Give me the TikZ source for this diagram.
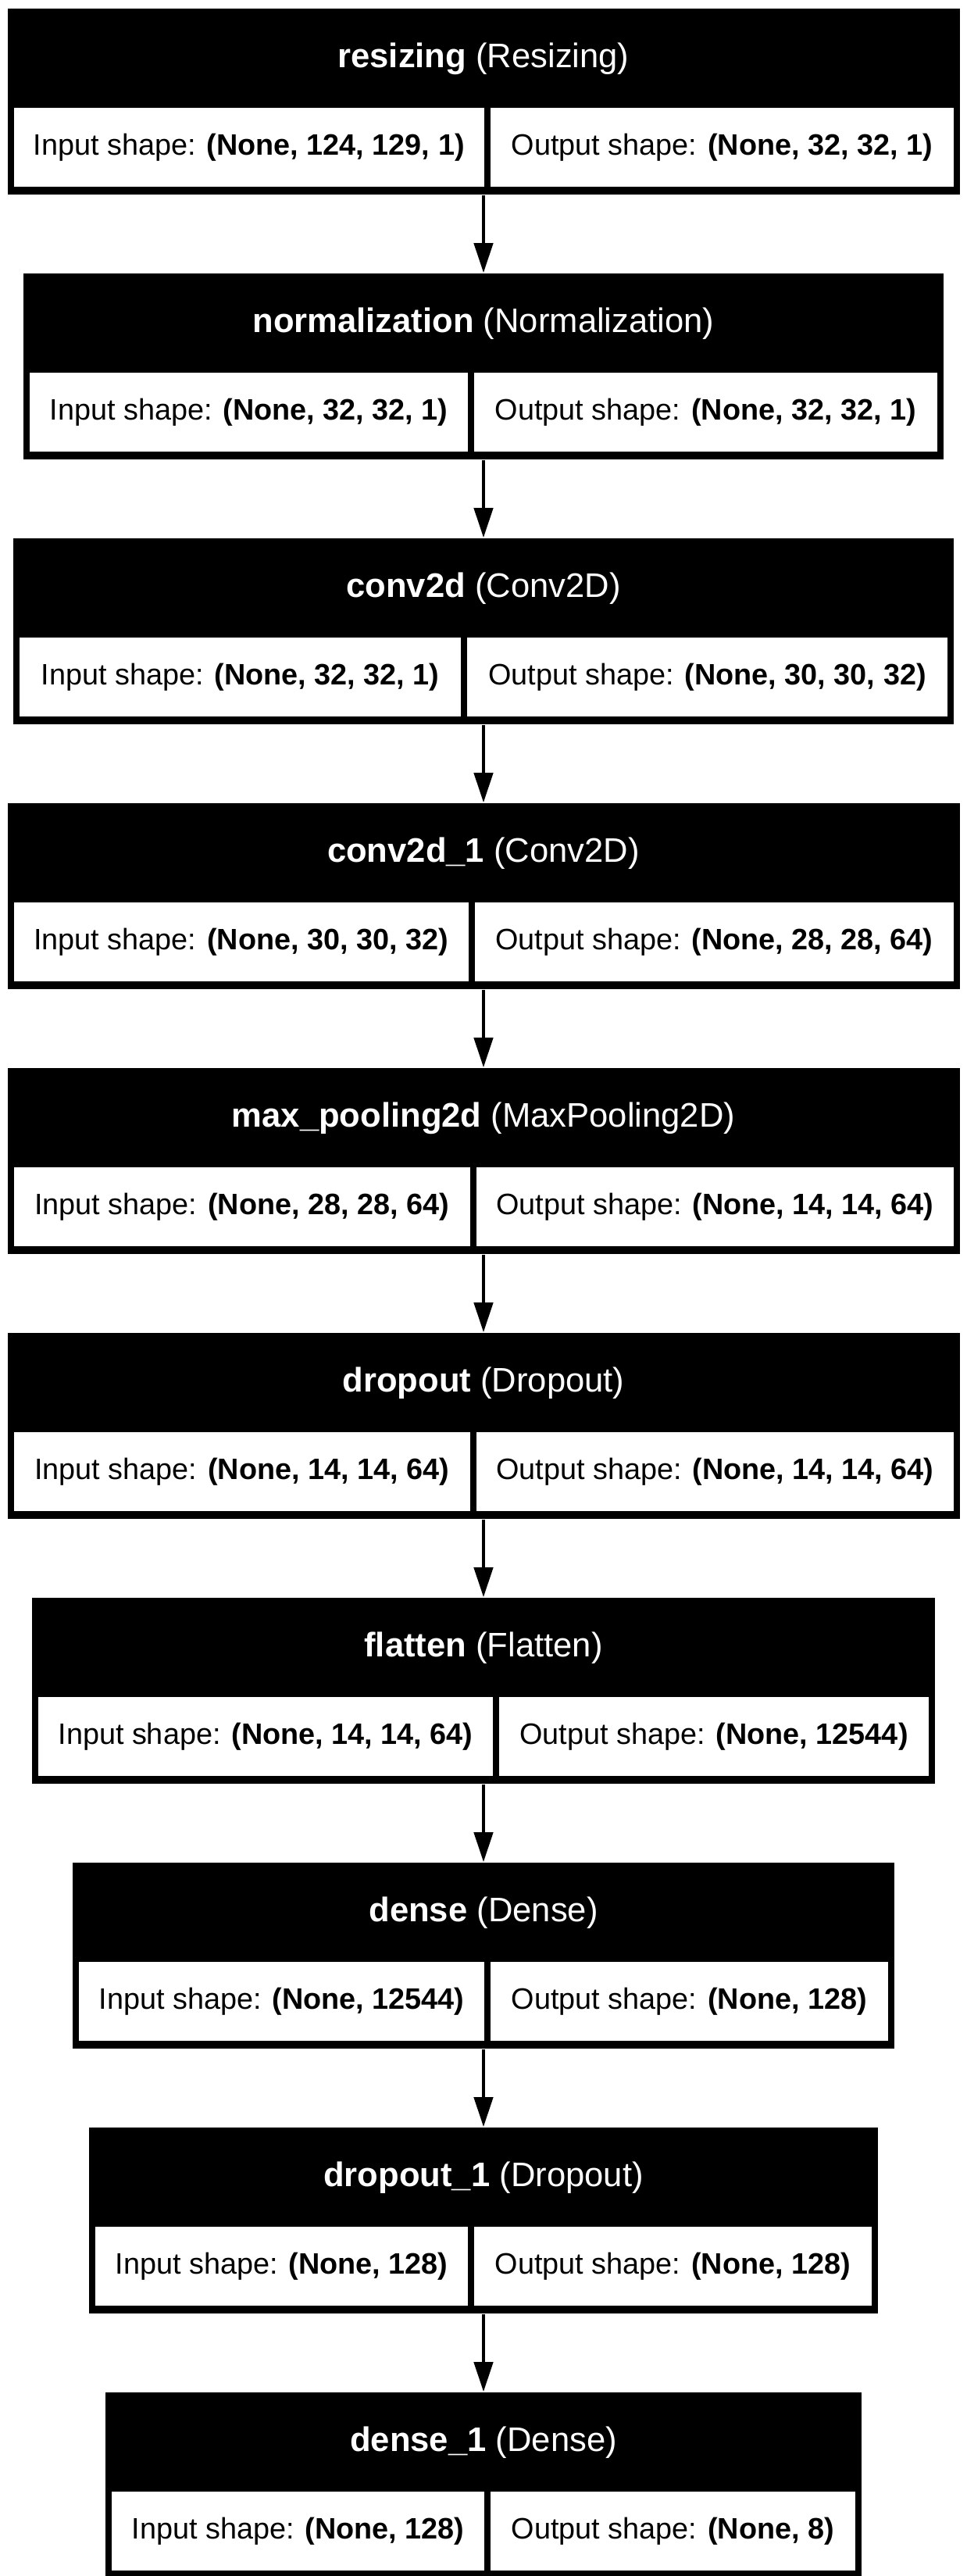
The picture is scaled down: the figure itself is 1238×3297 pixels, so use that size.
\documentclass[tikz,border=0pt]{standalone}
\usepackage{fontspec}
\setmainfont{Liberation Sans}
\usetikzlibrary{positioning, arrows.meta}

\begin{document}
\begin{tikzpicture}[x=0.25pt, y=-0.25pt, node distance=24.85pt,
        layerbox/.style={fill=black, minimum height=59.5pt, inner sep=0pt},
        headtext/.style={text=white, anchor=base, inner sep=0pt, font=\fontsize{10.9}{13}\selectfont},
        cellbox/.style={fill=white, minimum height=25.25pt, inner sep=0pt, font=\fontsize{9.45}{11}\selectfont},
        flowarrow/.style={-{Triangle[length=9.5pt, width=6pt]}, line width=1.1pt}]
        \useasboundingbox (0,0) rectangle (1238,3297);

        % Draw layer boxes
        \node[layerbox, minimum width=304.75pt] (resizing) at (619,130) {};
        \node[layerbox, minimum width=294.5pt, below=of resizing] (normalization) {};
        \node[layerbox, minimum width=301pt, below=of normalization] (conv) {};
        \node[layerbox, minimum width=304.75pt, below=of conv] (convb) {};
        \node[layerbox, minimum width=304.75pt, below=of convb] (maxpool) {};
        \node[layerbox, minimum width=304.75pt, below=of maxpool] (dropout) {};
        \node[layerbox, minimum width=289pt, below=of dropout] (flatten) {};
        \node[layerbox, minimum width=263pt, below=of flatten] (dense) {};
        \node[layerbox, minimum width=252.5pt, below=of dense] (dropoutb) {};
        \node[layerbox, minimum width=242pt, below=of dropoutb] (denseb) {};

        % Draw layer titles
        \node[headtext] (resizing-t) at ([yshift=-19pt]resizing.north) {\textbf{resizing} (Resizing)};
        \node[headtext] (normalization-t) at ([yshift=-19pt]normalization.north) {\textbf{normalization} (Normalization)};
        \node[headtext] (conv-t) at ([yshift=-19pt]conv.north) {\textbf{conv2d} (Conv2D)};
        \node[headtext] (convb-t) at ([yshift=-19pt]convb.north) {\textbf{conv2d\_1} (Conv2D)};
        \node[headtext] (maxpool-t) at ([yshift=-19pt]maxpool.north) {\textbf{max\_pooling2d} (MaxPooling2D)};
        \node[headtext] (dropout-t) at ([yshift=-19pt]dropout.north) {\textbf{dropout} (Dropout)};
        \node[headtext] (flatten-t) at ([yshift=-19pt]flatten.north) {\textbf{flatten} (Flatten)};
        \node[headtext] (dense-t) at ([yshift=-19pt]dense.north) {\textbf{dense} (Dense)};
        \node[headtext] (dropoutb-t) at ([yshift=-19pt]dropoutb.north) {\textbf{dropout\_1} (Dropout)};
        \node[headtext] (denseb-t) at ([yshift=-19pt]denseb.north) {\textbf{dense\_1} (Dense)};

        % Draw input and output shapes
        \node[cellbox, anchor=north west, minimum width=150.6pt] (resizing-in) at ([shift={(2pt,-31.75pt)}]resizing.north west) {Input shape: \textbf{(None, 124, 129, 1)}};
        \node[cellbox, anchor=north east, minimum width=148.1pt] (resizing-out) at ([shift={(-2pt,-31.75pt)}]resizing.north east) {Output shape: \textbf{(None, 32, 32, 1)}};
        \node[cellbox, anchor=north west, minimum width=140.25pt] (normalization-in) at ([shift={(2pt,-31.75pt)}]normalization.north west) {Input shape: \textbf{(None, 32, 32, 1)}};
        \node[cellbox, anchor=north east, minimum width=148.25pt] (normalization-out) at ([shift={(-2pt,-31.75pt)}]normalization.north east) {Output shape: \textbf{(None, 32, 32, 1)}};
        \node[cellbox, anchor=north west, minimum width=141.25pt] (conv-in) at ([shift={(2pt,-31.75pt)}]conv.north west) {Input shape: \textbf{(None, 32, 32, 1)}};
        \node[cellbox, anchor=north east, minimum width=153.75pt] (conv-out) at ([shift={(-2pt,-31.75pt)}]conv.north east) {Output shape: \textbf{(None, 30, 30, 32)}};
        \node[cellbox, anchor=north west, minimum width=145.6pt] (convb-in) at ([shift={(2pt,-31.75pt)}]convb.north west) {Input shape: \textbf{(None, 30, 30, 32)}};
        \node[cellbox, anchor=north east, minimum width=153.1pt] (convb-out) at ([shift={(-2pt,-31.75pt)}]convb.north east) {Output shape: \textbf{(None, 28, 28, 64)}};
        \node[cellbox, anchor=north west, minimum width=146.1pt] (maxpool-in) at ([shift={(2pt,-31.75pt)}]maxpool.north west) {Input shape: \textbf{(None, 28, 28, 64)}};
        \node[cellbox, anchor=north east, minimum width=152.6pt] (maxpool-out) at ([shift={(-2pt,-31.75pt)}]maxpool.north east) {Output shape: \textbf{(None, 14, 14, 64)}};
        \node[cellbox, anchor=north west, minimum width=146.1pt] (dropout-in) at ([shift={(2pt,-31.75pt)}]dropout.north west) {Input shape: \textbf{(None, 14, 14, 64)}};
        \node[cellbox, anchor=north east, minimum width=152.6pt] (dropout-out) at ([shift={(-2pt,-31.75pt)}]dropout.north east) {Output shape: \textbf{(None, 14, 14, 64)}};
        \node[cellbox, anchor=north west, minimum width=145.5pt] (flatten-in) at ([shift={(2pt,-31.75pt)}]flatten.north west) {Input shape: \textbf{(None, 14, 14, 64)}};
        \node[cellbox, anchor=north east, minimum width=137.5pt] (flatten-out) at ([shift={(-2pt,-31.75pt)}]flatten.north east) {Output shape: \textbf{(None, 12544)}};
        \node[cellbox, anchor=north west, minimum width=129.75pt] (dense-in) at ([shift={(2pt,-31.75pt)}]dense.north west) {Input shape: \textbf{(None, 12544)}};
        \node[cellbox, anchor=north east, minimum width=127.25pt] (dense-out) at ([shift={(-2pt,-31.75pt)}]dense.north east) {Output shape: \textbf{(None, 128)}};
        \node[cellbox, anchor=north west, minimum width=119.25pt] (dropoutb-in) at ([shift={(2pt,-31.75pt)}]dropoutb.north west) {Input shape: \textbf{(None, 128)}};
        \node[cellbox, anchor=north east, minimum width=127.25pt] (dropoutb-out) at ([shift={(-2pt,-31.75pt)}]dropoutb.north east) {Output shape: \textbf{(None, 128)}};
        \node[cellbox, anchor=north west, minimum width=119.25pt] (denseb-in) at ([shift={(2pt,-31.75pt)}]denseb.north west) {Input shape: \textbf{(None, 128)}};
        \node[cellbox, anchor=north east, minimum width=116.75pt] (denseb-out) at ([shift={(-2pt,-31.75pt)}]denseb.north east) {Output shape: \textbf{(None, 8)}};

        % Draw connections
        \draw[flowarrow] (resizing) -- (normalization);
        \draw[flowarrow] (normalization) -- (conv);
        \draw[flowarrow] (conv) -- (convb);
        \draw[flowarrow] (convb) -- (maxpool);
        \draw[flowarrow] (maxpool) -- (dropout);
        \draw[flowarrow] (dropout) -- (flatten);
        \draw[flowarrow] (flatten) -- (dense);
        \draw[flowarrow] (dense) -- (dropoutb);
        \draw[flowarrow] (dropoutb) -- (denseb);
    \end{tikzpicture}
\end{document}
